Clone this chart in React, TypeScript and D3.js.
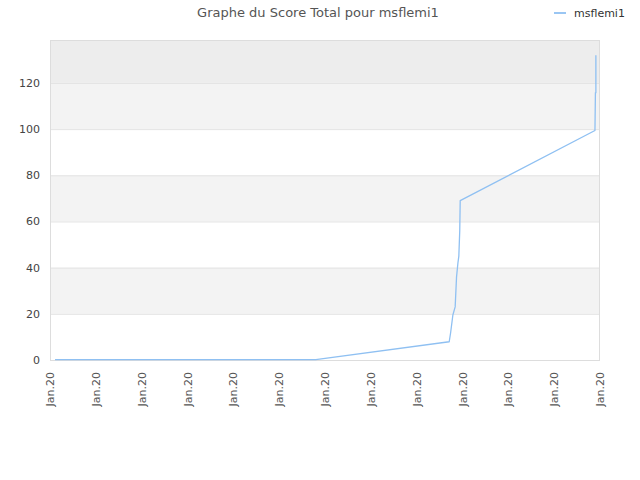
import React from 'react';
import * as d3 from 'd3';

// positions on the time axis (in tick units) and total score
const timePos = [0.11, 5.8, 5.88, 8.71, 8.74, 8.79, 8.84, 8.87, 8.9, 8.92, 8.94, 8.95, 11.89, 11.9, 11.91, 11.91];
const scores = [0.2, 0.2, 0.4, 7.9, 11.7, 19.5, 23, 36, 42, 45, 56, 69, 99.4, 115.8, 115.8, 132];
const xTickLabels = ['Jan.20', 'Jan.20', 'Jan.20', 'Jan.20', 'Jan.20', 'Jan.20', 'Jan.20', 'Jan.20', 'Jan.20', 'Jan.20', 'Jan.20', 'Jan.20', 'Jan.20'];
const yTicks = [0, 20, 40, 60, 80, 100, 120];
const bands = [[20, 40], [60, 80], [100, 120]];

const seriesName = 'msflemi1';
const title = 'Graphe du Score Total pour msflemi1';

const W = 640;
const H = 480;
const margin = { top: 40, right: 40, bottom: 120, left: 50 };

const App: React.FC = () => {
  const innerW = W - margin.left - margin.right;
  const innerH = H - margin.top - margin.bottom;

  const x = d3.scaleLinear().domain([0, xTickLabels.length - 1]).range([0, innerW]);
  const y = d3.scaleLinear().domain([0, 138.6]).range([innerH, 0]);

  const points = timePos.map((t, i) => [t, scores[i]] as [number, number]);
  const line = d3.line<[number, number]>()
    .x(d => x(d[0]))
    .y(d => y(d[1]));

  const font = '"DejaVu Sans", sans-serif';

  return (
    <svg width={W} height={H} style={{ position: 'absolute', left: 0, top: 0, fontFamily: font }}>
      <rect width={W} height={H} fill="#ffffff" />
      <text x={318} y={17} textAnchor="middle" fontSize={13} fill="#555555">{title}</text>

      {/* legend */}
      <line x1={554} x2={566} y1={13} y2={13} stroke="#9ac6f3" strokeWidth={2} />
      <text x={574} y={17} fontSize={11} fill="#333333">{seriesName}</text>

      <g transform={`translate(${margin.left},${margin.top})`}>
        {/* plot bands */}
        <rect x={0} y={0} width={innerW} height={y(120)} fill="#ededed" />
        {bands.map(([a, b], i) => (
          <rect key={i} x={0} y={y(b)} width={innerW} height={y(a) - y(b)} fill="#f3f3f3" />
        ))}

        {/* grid */}
        {yTicks.map(t => (
          <line key={t} x1={0} x2={innerW} y1={y(t) + 0.5} y2={y(t) + 0.5} stroke="#e3e3e3" />
        ))}
        <rect x={0.5} y={0.5} width={innerW - 1} height={innerH} fill="none" stroke="#dddddd" />

        {/* y labels */}
        {yTicks.map(t => (
          <text key={t} x={-10} y={y(t) + 4} textAnchor="end" fontSize={11} fill="#444444">{t}</text>
        ))}

        {/* x labels */}
        {xTickLabels.map((lab, i) => (
          <text key={i} transform={`translate(${x(i) + 4},${innerH + 12}) rotate(-90)`}
            textAnchor="end" fontSize={11} fill="#555555">{lab}</text>
        ))}

        <path d={line(points) || ''} fill="none" stroke="#8fc0f2" strokeWidth={1.3} strokeLinejoin="round" />
      </g>
    </svg>
  );
};

export default App;
